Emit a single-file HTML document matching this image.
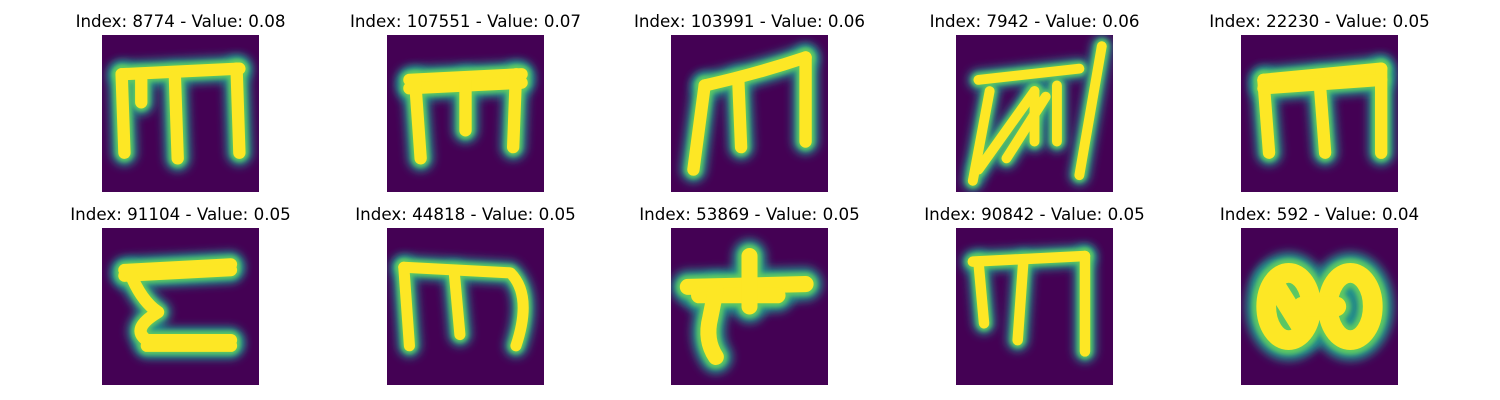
<!DOCTYPE html>
<html><head><meta charset="utf-8">
<style>
html,body{margin:0;padding:0;background:#fff;}
svg{display:block;font-family:"DejaVu Sans","Liberation Sans",sans-serif;}
</style></head>
<body>
<svg id="fig" width="1500" height="400" viewBox="0 0 1500 400" xmlns="http://www.w3.org/2000/svg">
<defs>
<filter id="bl" filterUnits="userSpaceOnUse" x="-100" y="-100" width="2000" height="2000"><feGaussianBlur stdDeviation="0.8"/></filter>
<filter id="bl2" filterUnits="userSpaceOnUse" x="-100" y="-100" width="2000" height="2000"><feGaussianBlur stdDeviation="0.4"/></filter>
</defs>
</svg>
<script>
const indices = [8774, 107551, 103991, 7942, 22230, 91104, 44818, 53869, 90842, 592];
const values = [0.08, 0.07, 0.06, 0.06, 0.05, 0.05, 0.05, 0.05, 0.05, 0.04];
// glyph strokes in 28x28 pixel units
const glyphs = [
 ["M3.5,7 L24.5,6","M3.5,7 L4,21","M13,7.5 L13.5,22","M24,6 L24.5,21","M7,8 L7,12"],
 ["M4,8 L24,7","M4,9.5 L24,8.5","M5,8 L6,22","M14,8 L14,17","M23,7 L22.5,20"],
 ["M4,24 L6,9","M6,9 Q15,7 24,4","M12,8 L12.5,20","M24,4 L24,19"],
 ["M3,26 L6,10","M4,8 L22,6","M4,24 L14,10","M9,22 L16,11","M14,10 L14,19","M18,9 L18,19","M26,2 L22,25"],
 ["M4,8 L25,6","M4,8 L5,21","M14,8 L15,21","M25,6 L25,21","M4,9.5 L25,8"],
 ["M4,7.5 L23,6.5","M4,8.5 L23,7.5","M5,8 Q7,13 10,15 Q5,18 8,20 L23,20","M8,21 L23,21"],
 ["M3,7 L22,8 Q26,12 23,21","M3,7 L4,21","M12,8 L13,19"],
 ["M3,10.5 L24,10","M5,12 L19,12","M14,5 L14,14","M8,11 L7,16 Q6,20 8,23"],
 ["M3,6 L23,5","M4,6 L5,17","M12,6 L11,20","M23,5 L23,22"],
 ["M4.5,14 A4,6 0 1 0 12.5,14 A4,6 0 1 0 4.5,14","M15.5,14 A4,6 0 1 0 23.5,14 A4,6 0 1 0 15.5,14","M11,14 L17,14","M6,10 L11,18"]
];
const strokeScale = [1, 1, 1, 0.8, 1, 1, 0.9, 1.3, 0.85, 1.6];
const svg = document.getElementById('fig');
const NS = 'http://www.w3.org/2000/svg';
const colX = [102, 387, 671, 956, 1241];
const rowY = [35, 228];
const size = 157;
for (let i = 0; i < indices.length; i++) {
  const x = colX[i % 5], y = rowY[Math.floor(i / 5)];
  const g = document.createElementNS(NS, 'g');
  
  
  const t = document.createElementNS(NS, 'text');
  
  
  t.setAttribute('x', x + size / 2);
  t.setAttribute('y', y - 8);
  t.setAttribute('text-anchor', 'middle');
  t.setAttribute('font-size', '16.7');
  t.textContent = 'Index: ' + indices[i] + ' - Value: ' + values[i].toFixed(2);
  g.appendChild(t);
  const r = document.createElementNS(NS, 'rect');
  
  
  r.setAttribute('x', x); r.setAttribute('y', y);
  r.setAttribute('width', size); r.setAttribute('height', size);
  r.setAttribute('fill', '#440154');
  g.appendChild(r);
  const gi = document.createElementNS(NS, 'g');
  
  
  const s = size / 28;
  gi.setAttribute('transform', 'translate(' + x + ',' + y + ') scale(' + s + ')');
  const layers = [['#21918c', 4.6, 'url(#bl)'], ['#5ec962', 3.2, 'url(#bl2)'], ['#fde725', 2.2, '']];
  layers.forEach(L => {
    glyphs[i].forEach(d => {
      const p = document.createElementNS(NS, 'path');
      
      
      p.setAttribute('d', d);
      p.setAttribute('fill', 'none');
      p.setAttribute('stroke', L[0]);
      p.setAttribute('stroke-width', L[1] * strokeScale[i]);
      p.setAttribute('stroke-linecap', 'round');
      p.setAttribute('stroke-linejoin', 'round');
      if (L[2]) p.setAttribute('filter', L[2]);
      gi.appendChild(p);
    });
  });
  const cp = document.createElementNS(NS, 'clipPath');
  cp.setAttribute('id', 'c' + i);
  const cr = document.createElementNS(NS, 'rect');
  cr.setAttribute('x', x); cr.setAttribute('y', y);
  cr.setAttribute('width', size); cr.setAttribute('height', size);
  cp.appendChild(cr);
  g.appendChild(cp);
  const wrap = document.createElementNS(NS, 'g');
  wrap.setAttribute('clip-path', 'url(#c' + i + ')');
  wrap.appendChild(gi);
  g.appendChild(wrap);
  svg.appendChild(g);
}
</script>
</body></html>
